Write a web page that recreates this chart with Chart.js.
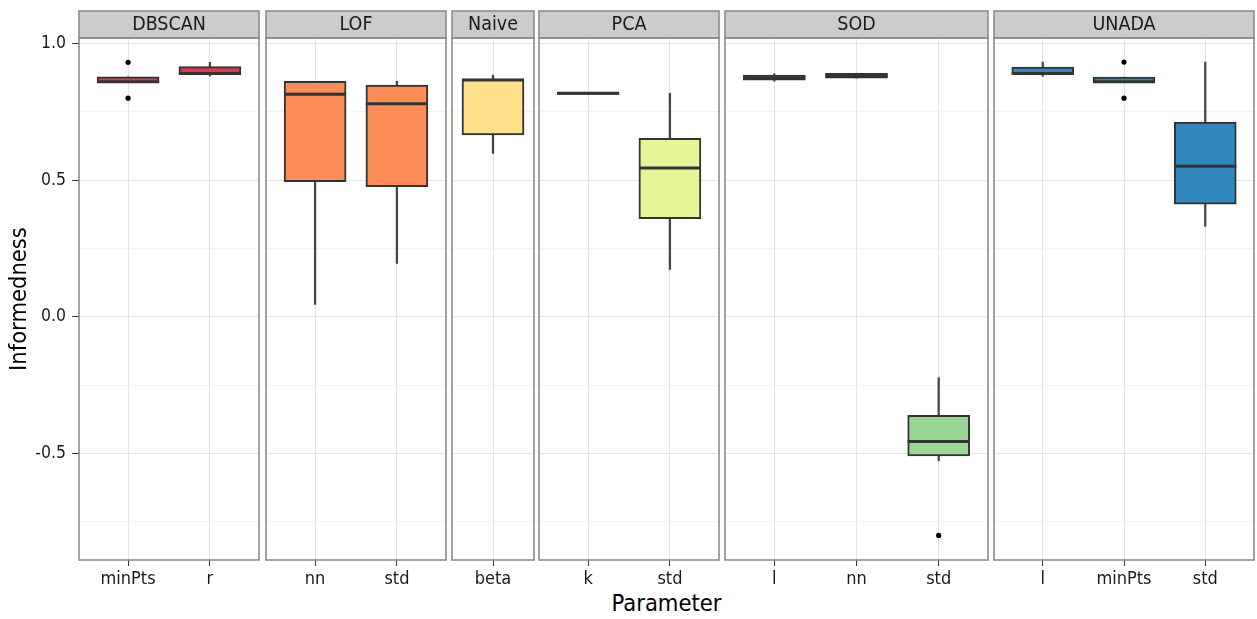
<!DOCTYPE html>
<html>
<head>
<meta charset="utf-8">
<script src="https://cdn.jsdelivr.net/npm/chart.js@4.4.1/dist/chart.umd.min.js"></script>
<style>
  body { margin: 0; background: #fff; }
  #plot {
    position: relative; width: 1257px; height: 619px; overflow: hidden;
    font-family: 'DejaVu Sans Condensed', 'Liberation Sans Narrow', sans-serif;
  }
  #plot canvas { position: absolute; }
  #xtitle {
    position: absolute; left: 79px; width: 1175px; top: 591px;
    text-align: center; font-size: 23.5px; line-height: 24px; color: #000;
  }
</style>
</head>
<body>
<div id="plot"><div id="xtitle">Parameter</div></div>
<script>
// methods (one facet each) and the parameters varied for each
const methods = ['DBSCAN', 'LOF', 'Naive', 'PCA', 'SOD', 'UNADA'];
const params = [['minPts', 'r'], ['nn', 'std'], ['beta'], ['k', 'std'], ['l', 'nn', 'std'], ['l', 'minPts', 'std']];

// informedness box statistics, per method, per parameter
const whiskerLow  = [[0.857, 0.881], [0.045, 0.195], [0.598], [0.814, 0.173], [0.862, 0.873, -0.527], [0.880, 0.857, 0.331]];
const quart1      = [[0.857, 0.886], [0.494, 0.476], [0.665], [0.814, 0.359], [0.866, 0.873, -0.509], [0.886, 0.857, 0.412]];
const medians     = [[0.860, 0.890], [0.814, 0.779], [0.866], [0.818, 0.544], [0.875, 0.882, -0.456], [0.890, 0.860, 0.551]];
const quart3      = [[0.878, 0.915], [0.861, 0.848], [0.870], [0.819, 0.653], [0.884, 0.891, -0.361], [0.914, 0.877, 0.712]];
const whiskerHigh = [[0.878, 0.931], [0.861, 0.862], [0.884], [0.819, 0.818], [0.889, 0.891, -0.223], [0.932, 0.877, 0.932]];
const outliers    = [[[0.931, 0.800], []], [[], []], [[]], [[], []], [[], [], [-0.800]], [[], [0.932, 0.800], []]];

const yMin = -0.89, yMax = 1.02;

// spectral palette, one fill per method
const fills = ['#D53E4F', '#FC8D59', '#FEE08B', '#E6F598', '#99D594', '#3288BD'];

// facet layout (page pixels)
const panelEdges = [[79, 259], [265.5, 445.5], [451.5, 534], [538.5, 719], [724.5, 988], [993.5, 1254]];
const stripTop = 11, stripH = 27, panelTop = 38, panelBottom = 560, xAxisH = 40;

const FONT = "'DejaVu Sans Condensed', 'Liberation Sans Narrow', sans-serif";
Chart.defaults.font.family = FONT;
Chart.defaults.color = '#1a1a1a';

const isMajor = v => Math.abs(v * 2 - Math.round(v * 2)) < 1e-9;

// grey strip behind the facet title, plus strip and panel borders
const panelPlugin = {
    id: 'panel',
    beforeDraw(chart) {
        const t = chart.titleBlock, ctx = chart.ctx;
        ctx.save();
        ctx.fillStyle = '#cccccc';
        ctx.fillRect(t.left, t.top, t.width, t.height);
        ctx.restore();
    },
    afterDraw(chart) {
        const t = chart.titleBlock, a = chart.chartArea, ctx = chart.ctx;
        ctx.save();
        ctx.strokeStyle = '#8c8c8c';
        ctx.lineWidth = 1.6;
        ctx.strokeRect(t.left, t.top, t.width, t.height);
        ctx.strokeRect(a.left, a.top, a.right - a.left, a.bottom - a.top);
        ctx.restore();
    }
};

function make_panel(i) {
    const first = i === 0;
    const n = params[i].length;
    const pad = n === 1 ? 0.5 : 0.6;
    const idx = params[i].map((p, k) => k);

    const left = first ? 0 : panelEdges[i][0] - 3;
    const width = panelEdges[i][1] + 3 - left;
    const top = stripTop - 2;
    const height = 2 + stripH + (panelBottom - panelTop) + xAxisH;

    const canvas = document.createElement('canvas');
    canvas.width = width;
    canvas.height = height;
    canvas.style.left = left + 'px';
    canvas.style.top = top + 'px';
    document.getElementById('plot').appendChild(canvas);

    let pts = [];
    idx.forEach(k => outliers[i][k].forEach(v => pts.push({x: k, y: v})));

    new Chart(canvas.getContext('2d'), {
        type: 'bar',
        data: {
            datasets: [
                {
                    // whiskers
                    type: 'bar',
                    data: idx.map(k => ({x: k, y: [whiskerLow[i][k], whiskerHigh[i][k]]})),
                    backgroundColor: '#444444',
                    barThickness: 1.6,
                    grouped: false,
                    order: 4
                },
                {
                    // interquartile boxes
                    type: 'bar',
                    data: idx.map(k => ({x: k, y: [quart1[i][k], quart3[i][k]]})),
                    backgroundColor: fills[i],
                    borderColor: '#333333',
                    borderWidth: 2,
                    borderSkipped: false,
                    barThickness: 62,
                    grouped: false,
                    order: 3
                },
                {
                    // medians
                    type: 'scatter',
                    data: idx.map(k => ({x: k, y: medians[i][k]})),
                    pointStyle: 'line',
                    pointRadius: 31,
                    pointBorderColor: '#333333',
                    pointBorderWidth: 3,
                    order: 2
                },
                {
                    // outlying points
                    type: 'scatter',
                    data: pts,
                    pointRadius: 2.6,
                    pointBackgroundColor: '#000000',
                    pointBorderWidth: 0,
                    order: 1
                }
            ]
        },
        options: {
            responsive: false,
            animation: false,
            devicePixelRatio: 1,
            events: [],
            layout: {autoPadding: false, padding: {left: first ? 0 : 3, right: 3, top: 2, bottom: 0}},
            plugins: {
                legend: {display: false},
                tooltip: {enabled: false},
                title: {
                    display: true,
                    text: methods[i],
                    fullSize: false,
                    padding: 0,
                    color: '#1a1a1a',
                    font: {size: 19.5, weight: 'normal', lineHeight: stripH / 19.5}
                }
            },
            scales: {
                x: {
                    type: 'linear',
                    min: -pad,
                    max: n - 1 + pad,
                    offset: false,
                    afterBuildTicks(s) { s.ticks = idx.map(k => ({value: k})); },
                    afterFit(s) { s.height = xAxisH; },
                    ticks: {
                        autoSkip: false, maxRotation: 0, padding: 3,
                        font: {size: 18}, color: '#1a1a1a',
                        callback: v => params[i][v]
                    },
                    grid: {offset: false, color: '#e4e4e4', lineWidth: 1, tickLength: 6, tickColor: '#333333'},
                    border: {display: false}
                },
                y: {
                    min: yMin,
                    max: yMax,
                    afterFit(s) { s.width = first ? panelEdges[0][0] : 0; },
                    ticks: {
                        display: first,
                        stepSize: 0.25,
                        includeBounds: false,
                        autoSkip: false,
                        padding: 6,
                        font: {size: 17.5},
                        color: '#1a1a1a',
                        callback: v => isMajor(v) ? v.toFixed(1) : ''
                    },
                    grid: {
                        color: c => isMajor(c.tick.value) ? '#e4e4e4' : '#f3f3f3',
                        lineWidth: 1,
                        drawTicks: first,
                        tickLength: 7,
                        tickColor: c => isMajor(c.tick.value) ? '#333333' : 'rgba(0,0,0,0)'
                    },
                    border: {display: false},
                    title: {
                        display: first,
                        text: 'Informedness',
                        color: '#000',
                        font: {size: 23.5},
                        padding: {top: 6, bottom: 0}
                    }
                }
            }
        },
        plugins: [panelPlugin]
    });
}

for (let i = 0; i < methods.length; ++i) {
    make_panel(i);
}
</script>
</body>
</html>
